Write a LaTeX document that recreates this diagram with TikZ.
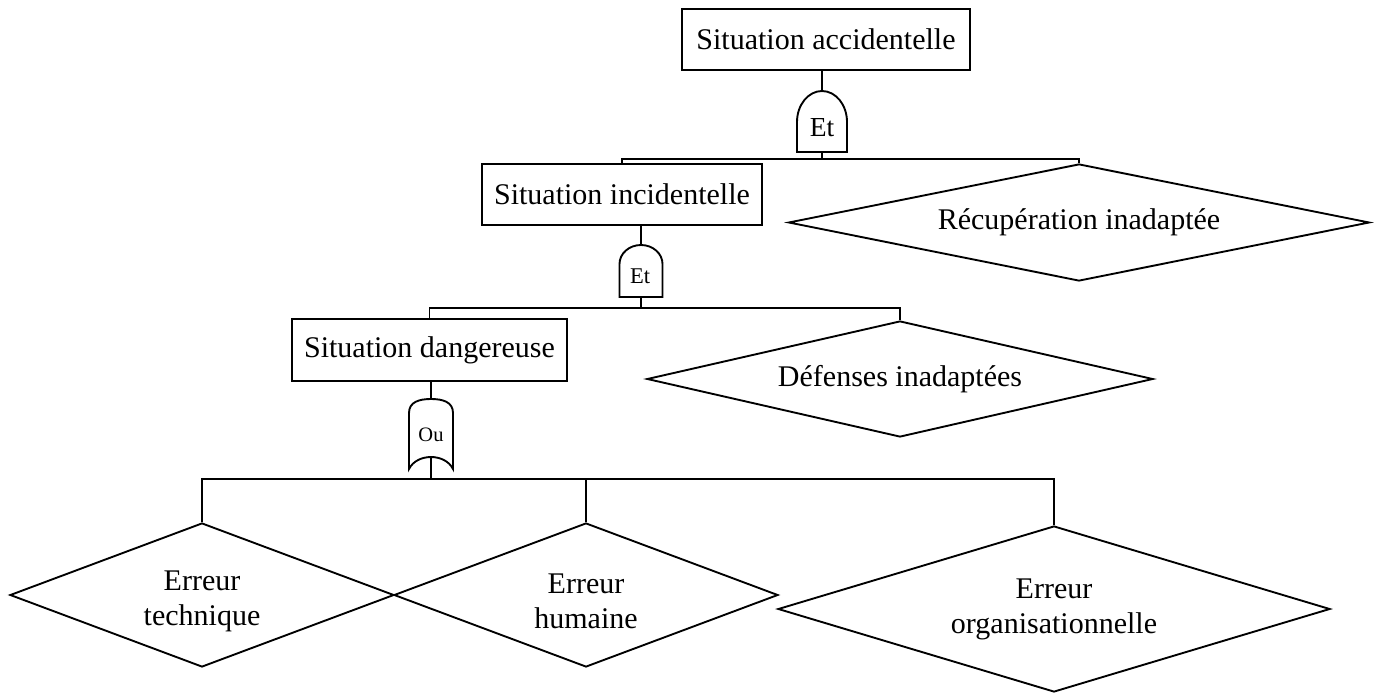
\documentclass[tikz,border=0pt]{standalone}
\usepackage{fontspec}
\setmainfont{Liberation Serif}
\usetikzlibrary{shapes.geometric}
\newlength\pxu
\setlength\pxu{0.4pt}
% invisible strut that lowers a multi-line label inside its shape
\newcommand\lowerlbl{\rule{0pt}{13pt}}
\begin{document}
\begin{tikzpicture}[x=0.4pt, y=-0.4pt, line width=0.75pt,
  event/.style={draw, rectangle, inner sep=0pt, font=\fontsize{12}{14}\selectfont},
  basic/.style={draw, diamond, inner sep=0pt, align=center, font=\fontsize{12}{14}\selectfont},
  gateshape/.style={draw, line join=miter},
  gatelabel/.style={inner sep=0pt}
]
\useasboundingbox (0,0) rectangle (1378,693);

% events (rectangles)
\node[event, minimum width=288\pxu, minimum height=61\pxu] (A) at (826,39.5) {Situation accidentelle};
\node[event, minimum width=280\pxu, minimum height=61\pxu] (B) at (622,194.5) {Situation incidentelle};
\node[event, minimum width=275\pxu, minimum height=62\pxu] (C) at (429.5,350) {Situation dangereuse};

% undeveloped events (diamonds)
\node[basic, minimum width=581\pxu, minimum height=117\pxu, aspect=4.96] (R) at (1079,222.5) {Récupération inadaptée};
\node[basic, minimum width=506\pxu, minimum height=116\pxu, aspect=4.36] (D) at (900,379) {Défenses inadaptées};
\node[basic, minimum width=384\pxu, minimum height=144\pxu, aspect=2.67] (T) at (202,595) {\lowerlbl Erreur\\technique};
\node[basic, minimum width=384\pxu, minimum height=144\pxu, aspect=2.67] (H) at (586,595) {\lowerlbl Erreur\\humaine};
\node[basic, minimum width=552\pxu, minimum height=166\pxu, aspect=3.33] (O) at (1054,609) {Erreur\\organisationnelle};

% gate 1 (AND)
\draw[gateshape] (797,152) -- (797,122) arc[start angle=180, end angle=0, x radius=25\pxu, y radius=31\pxu] -- (847,152) -- cycle;
\node[gatelabel, font=\fontsize{11}{12}\selectfont] (g1) at (822,128) {Et};
\coordinate (g1t) at (822,91);
\coordinate (g1b) at (822,152);

% gate 2 (AND)
\draw[gateshape] (619.5,297) -- (619.5,264) arc[start angle=180, end angle=0, x radius=21.5\pxu, y radius=19\pxu] -- (662.5,297) -- cycle;
\node[gatelabel, font=\fontsize{9}{10}\selectfont] (g2) at (640,276) {Et};
\coordinate (g2t) at (641,245);
\coordinate (g2b) at (641,297);

% gate 3 (OR)
\draw[gateshape] (409,469) -- (409,413) .. controls (409,402) and (419,399) .. (431,399)
  .. controls (443,399) and (453,402) .. (453,413) -- (453,469)
  .. controls (449,461) and (440,457) .. (431,457)
  .. controls (422,457) and (413,461) .. (409,469) -- cycle;
\node[gatelabel, font=\fontsize{8.2}{10}\selectfont] (g3) at (431,435) {Ou};
\coordinate (g3t) at (431,399);
\coordinate (g3b) at (431,457);

% bus levels
\coordinate (bar1) at (0,159);
\coordinate (bar2) at (0,308);
\coordinate (bar3) at (0,479);

% connectors
\draw (A.south -| g1t) -- (g1t);
\draw (g1b) -- (g1b |- bar1);
\draw (B.north) -- (B.north |- bar1) -- (R.north |- bar1) -- (R.north);

\draw (B.south -| g2t) -- (g2t);
\draw (g2b) -- (g2b |- bar2);
\draw (C.north) -- (C.north |- bar2) -- (D.north |- bar2) -- (D.north);

\draw (C.south -| g3t) -- (g3t);
\draw (g3b) -- (g3b |- bar3);
\draw (T.north) -- (T.north |- bar3) -- (O.north |- bar3) -- (O.north);
\draw (H.north) -- (H.north |- bar3);
\end{tikzpicture}
\end{document}
